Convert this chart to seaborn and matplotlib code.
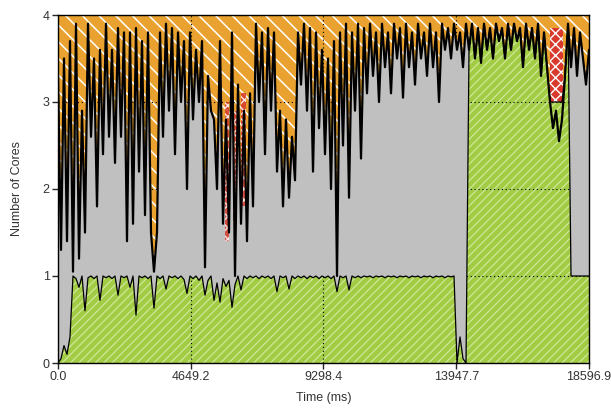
import numpy as np
import pandas as pd
import matplotlib
matplotlib.use("Agg")
import matplotlib.pyplot as plt
import seaborn as sns

sns.set_style("white")
plt.rcParams['font.family'] = ['Liberation Sans', 'DejaVu Sans']

# one sample every ~105 ms (0 .. 18596.9 ms)
sample_ms = 105.07

# total cores in use (top black line)
total_cores = [3.3, 1.3, 3.5, 1.4, 3.7, 1.05, 3.9, 1.2, 2.9, 1.5,
               3.9, 2.6, 3.5, 1.8, 3.6, 2.4, 3.9, 2.6, 3.6, 2.3,
               3.85, 2.6, 3.8, 1.4, 3.8, 1.6, 3.85, 2.2, 3.7, 1.7,
               3.8, 1.5, 1.05, 1.5, 3.8, 2.6, 3.9, 2.9, 3.85, 2.4,
               3.8, 3.0, 3.7, 2.0, 3.8, 2.8, 3.6, 3.0, 3.7, 1.1,
               3.3, 2.9, 2.8, 2.0, 3.7, 1.6, 2.8, 1.5, 3.8, 1.0,
               3.2, 1.6, 2.9, 1.4, 3.1, 1.8, 3.9, 3.0, 3.8, 2.4,
               3.85, 2.9, 3.8, 2.2, 2.9, 1.8, 2.8, 1.9, 2.6, 2.1,
               3.8, 3.2, 3.9, 2.9, 3.85, 2.2, 3.8, 2.7, 3.6, 2.4,
               3.5, 2.0, 3.7, 1.0, 3.8, 2.5, 3.9, 1.9, 3.8, 2.9,
               3.9, 2.35, 3.85, 3.1, 3.9, 3.3, 3.8, 3.0, 3.9, 3.4,
               3.8, 3.1, 3.9, 3.5, 3.85, 3.05, 3.9, 3.4, 3.8, 3.2,
               3.9, 3.5, 3.8, 3.3, 3.9, 3.4, 3.8, 3.0, 3.9, 3.6,
               3.85, 3.5, 3.9, 3.6, 3.8, 3.4, 3.9, 3.6, 3.9, 3.5,
               3.85, 3.45, 3.9, 3.6, 3.85, 3.5, 3.9, 3.7, 3.85, 3.5,
               3.9, 3.6, 3.9, 3.7, 3.85, 3.4, 3.9, 3.6, 3.85, 3.5,
               3.9, 3.3, 3.8, 3.4, 3.0, 2.7, 2.9, 2.55, 2.8, 3.3,
               3.9, 3.4, 3.85, 3.3, 3.8, 3.5, 3.2, 3.6]

# cores used by the app (green area)
app_cores = [0.0, 0.05, 0.2, 0.1, 0.3,
             1.0, 0.97, 0.87, 1.0, 0.6,
             0.98, 1.0, 0.97, 1.0, 0.72, 1.0, 0.98, 1.0, 0.97, 1.0,
             0.78, 1.0, 0.98, 1.0, 0.87, 1.0, 0.55, 1.0, 0.98, 1.0,
             0.97, 1.0, 0.63, 1.0, 0.97, 1.0, 0.85, 1.0, 0.98, 1.0,
             0.97, 1.0, 0.96, 0.8, 1.0, 0.97, 1.0, 0.95, 1.0, 0.78,
             0.95, 1.0, 0.72, 0.92, 0.7, 0.97, 0.88, 0.95, 0.64, 0.9,
             1.0, 0.84, 1.0, 0.97, 1.0, 0.98, 1.0, 0.97, 1.0, 0.98,
             1.0, 0.97, 1.0, 0.82, 1.0, 0.98, 1.0, 0.85, 1.0, 0.97,
             1.0, 0.98, 1.0, 0.97, 1.0, 0.98, 1.0, 0.97, 1.0, 0.98,
             1.0, 0.97, 1.0, 0.82, 1.0, 0.98, 1.0, 0.84, 1.0, 0.98,
             1.0, 0.98, 1.0, 0.99, 1.0, 0.98, 1.0, 0.99, 1.0, 0.98,
             1.0, 0.99, 1.0, 0.98, 1.0, 0.99, 1.0, 0.98, 1.0, 0.99,
             1.0, 0.98, 1.0, 0.99, 1.0, 0.98, 1.0, 0.99, 1.0, 0.98,
             1.0, 0.99, 1.0,
             0.0, 0.3, 0.05, 0.0,
             3.6, 3.9, 3.5, 3.85, 3.45, 3.9, 3.6, 3.85, 3.5, 3.9,
             3.7, 3.85, 3.5, 3.9, 3.6, 3.9, 3.7, 3.85, 3.4, 3.9,
             3.6, 3.85, 3.5, 3.9, 3.3, 3.8, 3.4,
             3.0, 3.0, 3.0, 3.0, 3.0,
             3.3, 3.9,
             1.0, 1.0, 1.0, 1.0, 1.0, 1.0, 1.0]

# other-process periods (red cross-hatch), the early ones partly hidden by the spikes
red_start = [5850, 6130, 6420, 17231]
red_end = [6000, 6260, 6600, 17686]
red_low = [1.4, 1.6, 1.8, 3.0]
red_high = [3.0, 2.9, 3.1, 3.85]
red_alpha = [0.85, 0.85, 0.85, 1.0]

x_ticks = [0.0, 4649.2, 9298.4, 13947.7, 18596.9]
y_ticks = [0, 1, 2, 3, 4]

green = "#a2cc44"
green_hatch = "#d4eaa2"
orange = "#e9a22f"
gray = "#c0c0c0"
red = "#d8392c"

df = pd.DataFrame({"time": np.arange(len(total_cores)) * sample_ms,
                   "total": total_cores, "app": app_cores})
top = np.maximum(df["total"], df["app"])

fig, ax = plt.subplots(figsize=(6.11, 4.08), dpi=100)
fig.subplots_adjust(left=58/611, right=589/611, top=1-15/408, bottom=1-363/408)

with plt.rc_context({"hatch.linewidth": 0.8}):
    ax.fill_between(df["time"], 0, df["app"], facecolor=green, edgecolor=green_hatch,
                    hatch="////", linewidth=0, zorder=1)
with plt.rc_context({"hatch.linewidth": 1.1}):
    ax.fill_between(df["time"], top, 4, facecolor=orange, edgecolor="white",
                    hatch="\\\\", linewidth=0, zorder=1)
ax.fill_between(df["time"], df["app"], df["total"], where=df["total"] >= df["app"],
                interpolate=True, facecolor=gray, linewidth=0, zorder=3)

with plt.rc_context({"hatch.linewidth": 1.0}):
    for s, e, lo, hi, a in zip(red_start, red_end, red_low, red_high, red_alpha):
        ax.fill_between([s, e], lo, hi, facecolor=red, edgecolor="white",
                        hatch="xxx", linewidth=0, alpha=a, zorder=3.5)

sns.lineplot(data=df, x="time", y="total", color="black", linewidth=1.6,
             estimator=None, ax=ax, zorder=4)
sns.lineplot(data=df, x="time", y="app", color="black", linewidth=0.9,
             estimator=None, ax=ax, zorder=4)

ax.grid(True, linestyle=(0, (1, 2.5)), color="black", linewidth=0.8)
ax.set_axisbelow(False)
for sp in ax.spines.values():
    sp.set_color("black")
    sp.set_linewidth(1.0)
    sp.set_zorder(10)

ax.set_xlim(0, 18596.9)
ax.set_ylim(0, 4)
ax.set_xticks(x_ticks)
ax.set_xticklabels([f"{v:.1f}" for v in x_ticks])
ax.set_yticks(y_ticks)
ax.tick_params(direction="out", length=4, width=1, labelsize=9,
               labelcolor="#333333", bottom=True, left=True, pad=2)
ax.set_xlabel("Time (ms)", fontsize=9, color="#333333", labelpad=6)
ax.set_ylabel("Number of Cores", fontsize=9, color="#333333", labelpad=14)

plt.savefig("out.png", dpi=100)
